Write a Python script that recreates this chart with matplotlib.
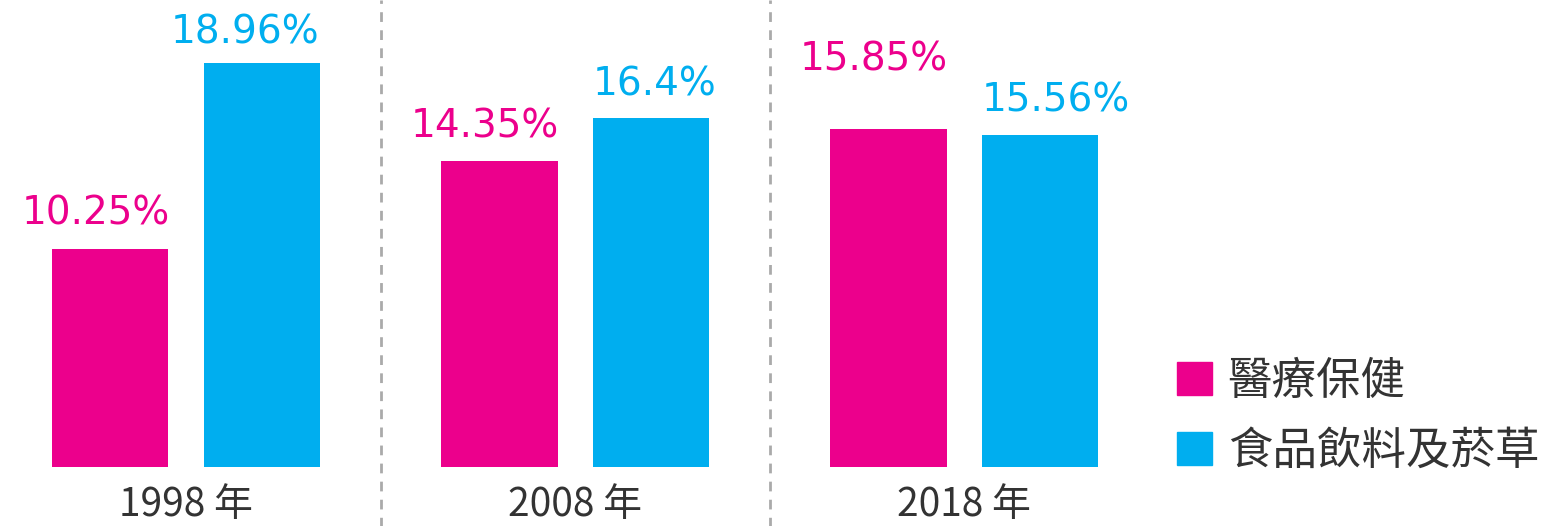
import matplotlib
matplotlib.use("Agg")
import matplotlib.pyplot as plt
from matplotlib.patches import Patch
import numpy as np

plt.rcParams['font.family'] = ['Noto Sans CJK TC', 'DejaVu Sans']

years = ['1998 年', '2008 年', '2018 年']
series_names = ['醫療保健', '食品飲料及菸草']
health = [10.25, 14.35, 15.85]
food = [18.96, 16.4, 15.56]
health_labels = ['10.25%', '14.35%', '15.85%']
food_labels = ['18.96%', '16.4%', '15.56%']

PINK = '#EC008C'
BLUE = '#00AEEF'

fig = plt.figure(figsize=(15.44, 5.26), dpi=100)
# axes bottom sits on the bar baseline, top on the figure edge
ax = fig.add_axes([0, 59 / 526, 1, 467 / 526])

x = np.arange(len(years))
w = 0.30
off = 0.195
ax.bar(x - off, health, w, color=PINK)
ax.bar(x + off, food, w, color=BLUE)

ax.set_xlim(-0.478, 3.49)
ax.set_ylim(0, 21.92)
ax.axis('off')

# separators between the years
for sep in [0.5, 1.5]:
    ax.axvline(sep, ymin=-0.13, ymax=1, color='#aaaaaa', lw=2,
               linestyle=(0, (3.5, 3)), clip_on=False)

# value labels, tucked against the bar edges like the original
pct_font = dict(family='DejaVu Sans', fontsize=28)
health_lift = [25, 25, 50]
for i, (v, t) in enumerate(zip(health, health_labels)):
    ax.annotate(t, (x[i] - off + w / 2, v), xytext=(1, health_lift[i]),
                textcoords='offset points', ha='right', va='center',
                color=PINK, **pct_font)
food_ha = ['right', 'left', 'left']
food_lift = [22, 24, 25]
for i, (v, t) in enumerate(zip(food, food_labels)):
    xe = x[i] + off + (w / 2 if food_ha[i] == 'right' else -w / 2)
    ax.annotate(t, (xe, v), xytext=(-1 if food_ha[i] == 'right' else 0, food_lift[i]),
                textcoords='offset points', ha=food_ha[i], va='center',
                color=BLUE, **pct_font)

for i, yr in enumerate(years):
    ax.text(x[i], -1.78, yr, ha='center', va='center', fontsize=28,
            color='#333333', fontweight='light', clip_on=False)

handles = [Patch(color=PINK), Patch(color=BLUE)]
fig.legend(handles, series_names, loc='center left',
           bbox_to_anchor=(1177 / 1544, 110 / 526), frameon=False,
           fontsize=32, handlelength=0.78, handleheight=0.78,
           handletextpad=0.36, labelspacing=0.53, borderpad=0,
           borderaxespad=0, labelcolor='#333333')

fig.savefig('out.png', dpi=100)
